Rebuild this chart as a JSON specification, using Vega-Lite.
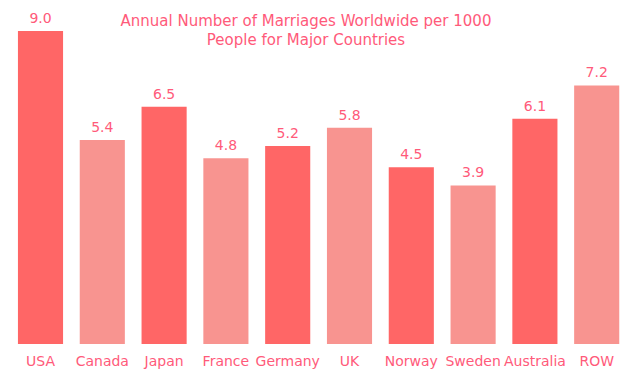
{
  "$schema": "https://vega.github.io/schema/vega-lite/v6.json",
  "autosize": "none",
  "width": 618,
  "height": 313,
  "padding": {"left": 9.6, "top": 31, "right": 16.4, "bottom": 36},
  "background": "white",
  "config": {"view": {"stroke": null}, "font": "DejaVu Sans"},
  "title": {
    "text": ["Annual Number of Marriages Worldwide per 1000", "People for Major Countries"],
    "fontSize": 15,
    "fontWeight": "normal",
    "color": "#ff5a7a",
    "font": "DejaVu Sans",
    "lineHeight": 19,
    "anchor": "middle",
    "dx": -12.6,
    "dy": 39.5
  },
  "data": {
    "values": [
      {"country": "USA", "value": 9.0},
      {"country": "Canada", "value": 5.4},
      {"country": "Japan", "value": 6.5},
      {"country": "France", "value": 4.8},
      {"country": "Germany", "value": 5.2},
      {"country": "UK", "value": 5.8},
      {"country": "Norway", "value": 4.5},
      {"country": "Sweden", "value": 3.9},
      {"country": "Australia", "value": 6.1},
      {"country": "ROW", "value": 7.2}
    ]
  },
  "encoding": {
    "x": {
      "field": "country",
      "type": "nominal",
      "sort": null,
      "scale": {"paddingInner": 0.27, "paddingOuter": 0.135},
      "axis": {
        "title": null,
        "domain": false,
        "ticks": false,
        "labelAngle": 0,
        "labelFontSize": 14,
        "labelColor": "#ff5a7a",
        "labelPadding": 10,
        "labelFont": "DejaVu Sans"
      }
    },
    "y": {
      "field": "value",
      "type": "quantitative",
      "scale": {"domain": [-1.34, 9], "zero": false, "nice": false},
      "axis": null
    }
  },
  "layer": [
    {
      "mark": {"type": "bar"},
      "encoding": {
        "y2": {"datum": -1.34},
        "color": {
          "field": "country",
          "type": "nominal",
          "sort": null,
          "scale": {
            "domain": ["USA", "Canada", "Japan", "France", "Germany", "UK", "Norway", "Sweden", "Australia", "ROW"],
            "range": ["#ff6666", "#f89490", "#ff6666", "#f89490", "#ff6666", "#f89490", "#ff6666", "#f89490", "#ff6666", "#f89490"]
          },
          "legend": null
        }
      }
    },
    {
      "mark": {"type": "text", "baseline": "bottom", "dy": -5, "fontSize": 14, "color": "#ff5a7a"},
      "encoding": {
        "text": {"field": "value", "type": "quantitative", "format": ".1f"}
      }
    }
  ]
}
